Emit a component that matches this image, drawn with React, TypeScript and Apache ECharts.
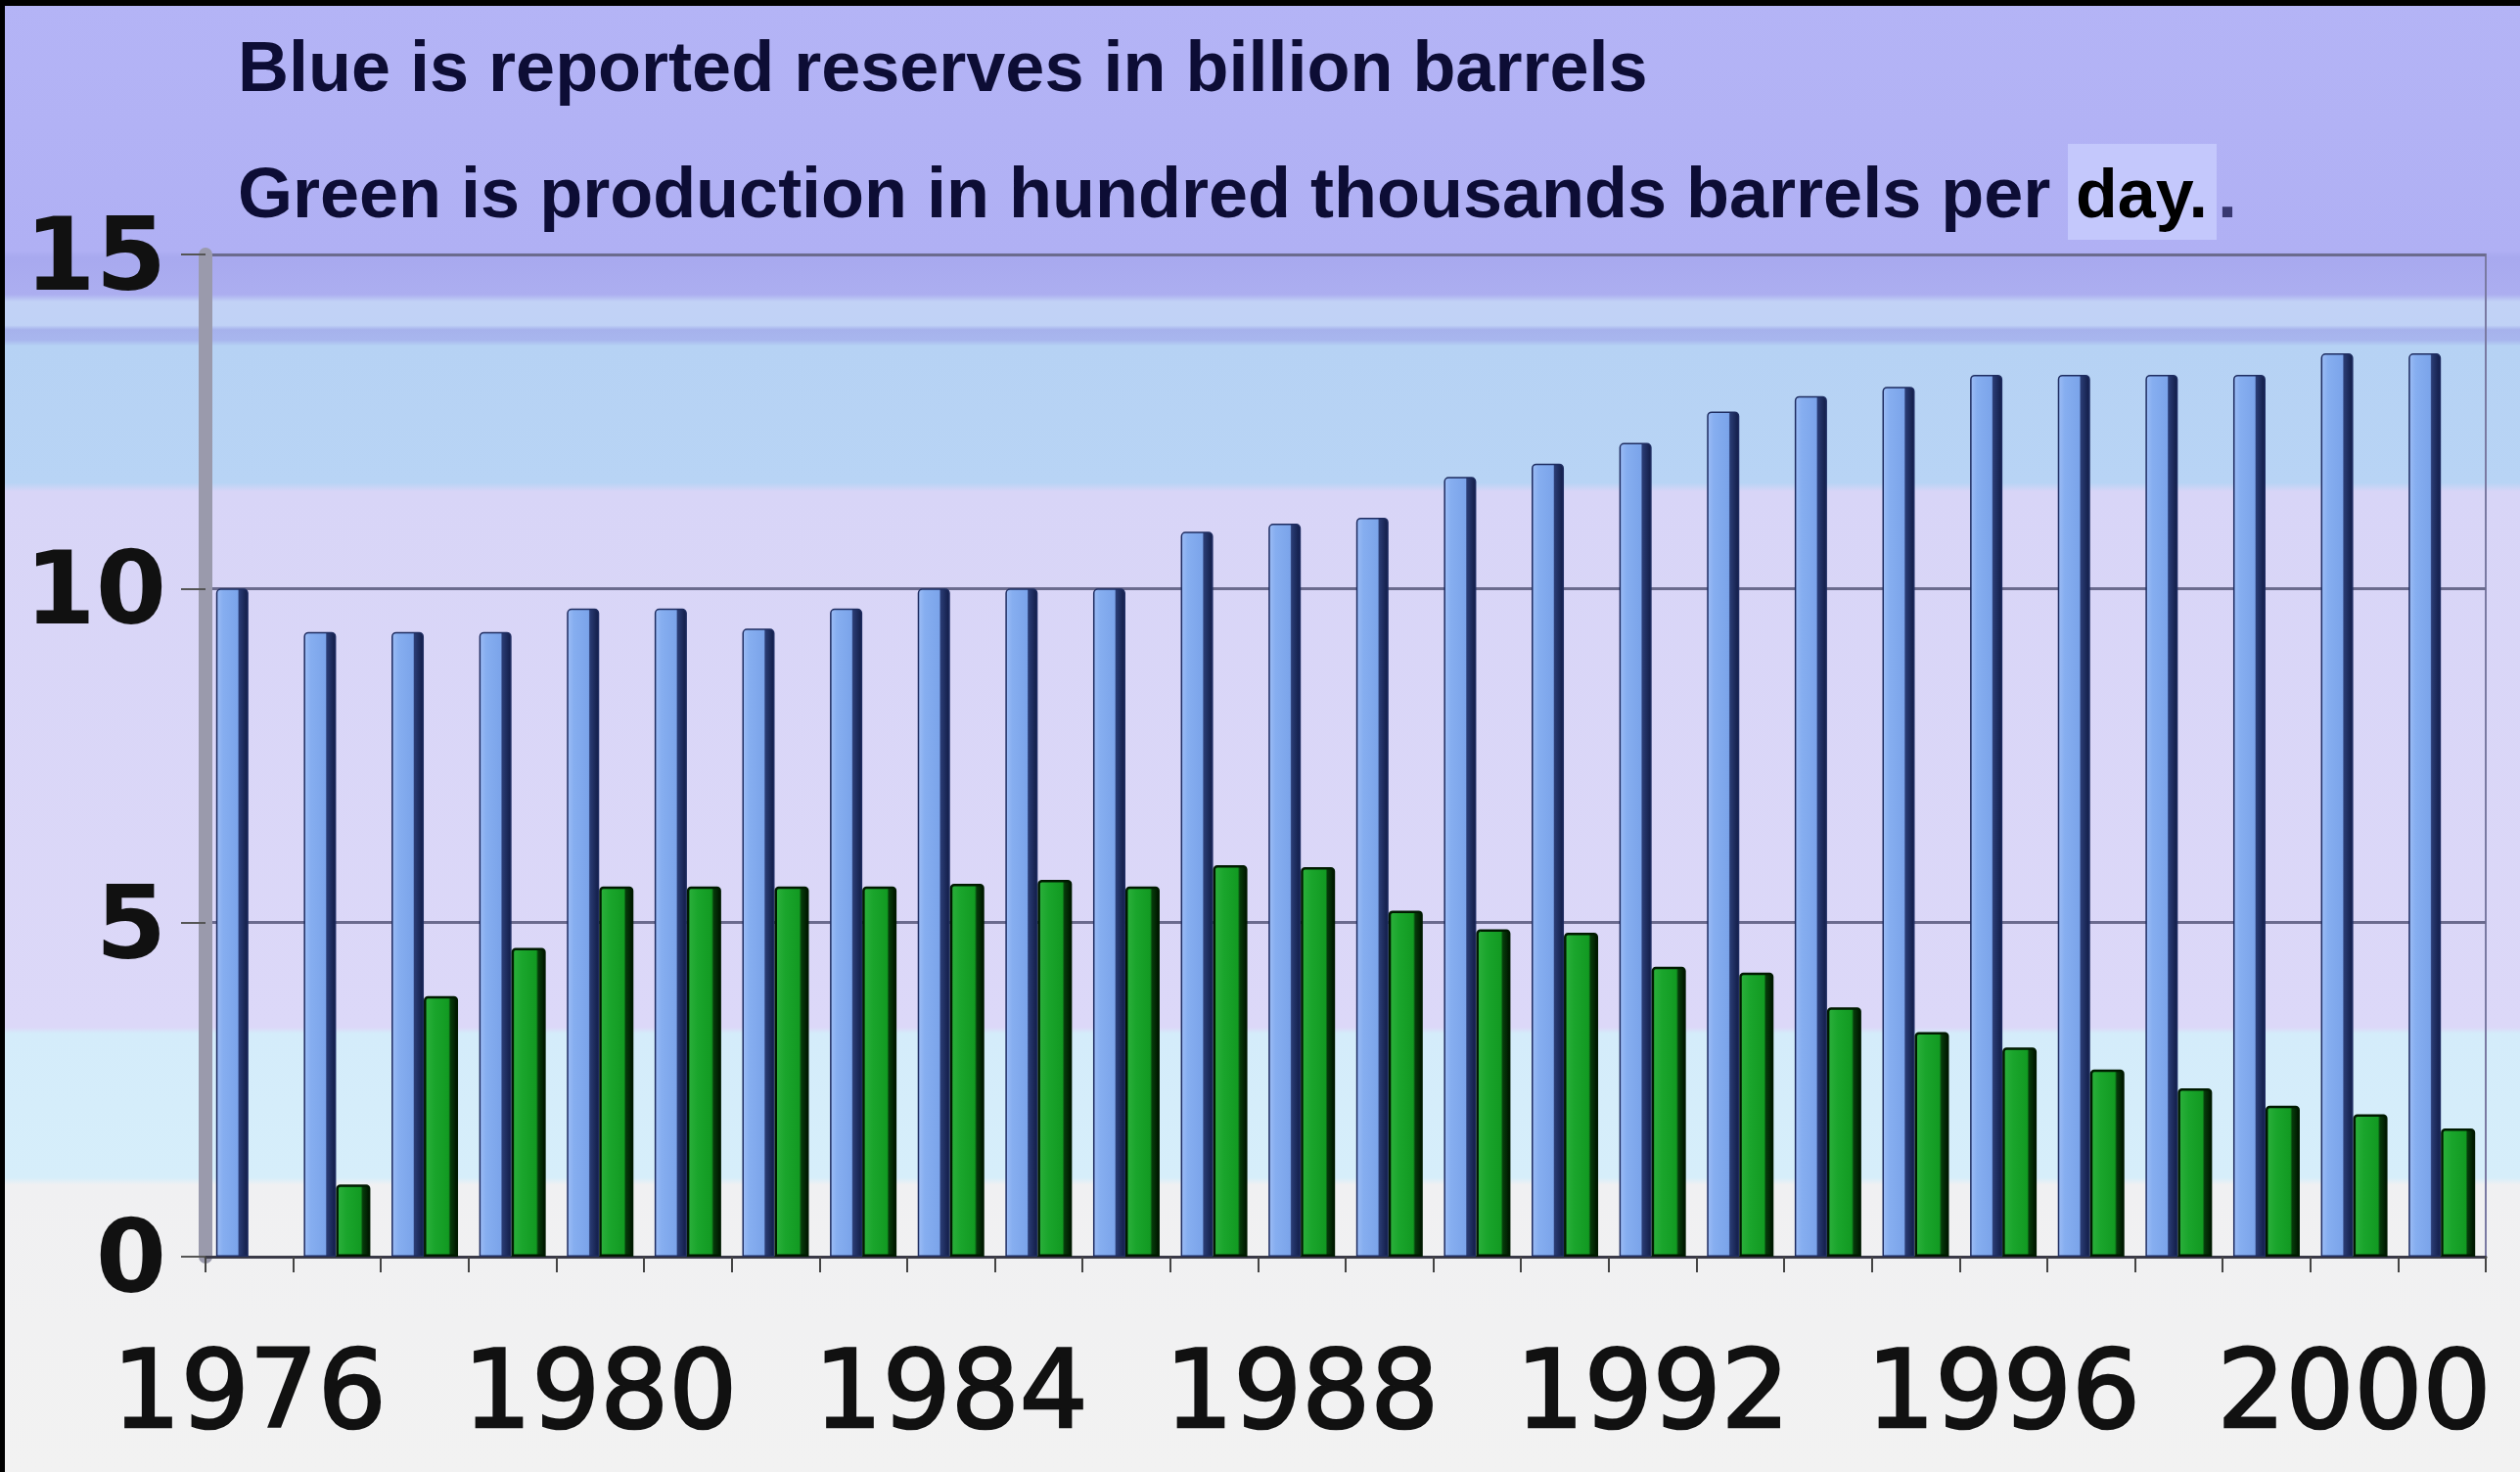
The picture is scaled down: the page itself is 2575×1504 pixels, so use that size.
import React, { useEffect, useRef } from "react";
import * as echarts from "echarts";

const years = [
  "1976", "1977", "1978", "1979", "1980", "1981", "1982", "1983", "1984",
  "1985", "1986", "1987", "1988", "1989", "1990", "1991", "1992", "1993",
  "1994", "1995", "1996", "1997", "1998", "1999", "2000", "2001",
];

// Blue: reported reserves (billion barrels)
const reserves = [
  10.0, 9.35, 9.35, 9.35, 9.7, 9.7, 9.4, 9.7, 10.0, 10.0, 10.0, 10.85, 10.97,
  11.06, 11.67, 11.87, 12.18, 12.65, 12.88, 13.02, 13.2, 13.2, 13.2, 13.2,
  13.52, 13.52,
];

// Green: production (hundred thousand barrels per day)
const production = [
  null, 1.08, 3.9, 4.62, 5.54, 5.54, 5.54, 5.54, 5.58, 5.64, 5.54, 5.86, 5.83,
  5.18, 4.9, 4.85, 4.34, 4.25, 3.73, 3.36, 3.13, 2.8, 2.52, 2.26, 2.13, 1.92,
];

const yTicks = { min: 0, max: 15, interval: 5 };

const titleLine1 = "Blue is reported reserves in billion barrels";
const titleLine2 = "Green is production in hundred thousands barrels per ";
const titleDay = "day.";
const titleTail = ".";

export default function App() {
  const ref = useRef<HTMLDivElement>(null);

  useEffect(() => {
    document.body.style.margin = "0";
    if (!ref.current) return;
    const chart = echarts.init(ref.current, undefined, { renderer: "svg" });

    const bg = new echarts.graphic.LinearGradient(0, 0, 0, 1, [
      { offset: 0, color: "#b4b4f6" },
      { offset: 0.17, color: "#b0b0f4" },
      { offset: 0.175, color: "#a8a9ef" },
      { offset: 0.2, color: "#acaef0" },
      { offset: 0.205, color: "#c2d2f6" },
      { offset: 0.221, color: "#c0d2f6" },
      { offset: 0.224, color: "#a6b2ec" },
      { offset: 0.231, color: "#a8b6ee" },
      { offset: 0.235, color: "#b6d2f4" },
      { offset: 0.328, color: "#b8d4f5" },
      { offset: 0.334, color: "#d8d5f7" },
      { offset: 0.698, color: "#dcd8f8" },
      { offset: 0.702, color: "#d4ecfa" },
      { offset: 0.8, color: "#d6eefa" },
      { offset: 0.805, color: "#f0f0f2" },
      { offset: 1, color: "#f2f2f2" },
    ]);

    const blueFill = new echarts.graphic.LinearGradient(0, 0, 1, 0, [
      { offset: 0, color: "#9cbcf5" },
      { offset: 0.2, color: "#86aef0" },
      { offset: 0.68, color: "#7ba4ea" },
      { offset: 0.72, color: "#2a3c74" },
      { offset: 1, color: "#121d48" },
    ]);
    const greenFill = new echarts.graphic.LinearGradient(0, 0, 1, 0, [
      { offset: 0, color: "#2cb03c" },
      { offset: 0.3, color: "#1aa52c" },
      { offset: 0.74, color: "#129a22" },
      { offset: 0.8, color: "#063a0a" },
      { offset: 1, color: "#001800" },
    ]);

    const textFont = "'Liberation Sans', Arial, sans-serif";
    const shadow = { shadowBlur: 3, shadowColor: "rgba(10,10,70,0.55)" };

    chart.setOption({
      animation: false,
      backgroundColor: bg,
      graphic: [
        { type: "rect", left: 0, top: 0, shape: { width: 2575, height: 6 }, style: { fill: "#000" }, silent: true },
        { type: "rect", left: 0, top: 0, shape: { width: 5, height: 1504 }, style: { fill: "#000" }, silent: true },
        {
          type: "text", x: 243, y: 68,
          style: { text: titleLine1, font: `bold 72px ${textFont}`, fill: "#0d0d35", verticalAlign: "middle", ...shadow },
        },
        {
          type: "text", x: 243, y: 197,
          style: { text: titleLine2, font: `bold 72px ${textFont}`, fill: "#0d0d35", verticalAlign: "middle", ...shadow },
        },
        { type: "rect", x: 2113, y: 147, shape: { width: 152, height: 98 }, style: { fill: "#c4c8fc" }, silent: true },
        {
          type: "text", x: 2121, y: 198,
          style: { text: titleDay, font: `bold 70px ${textFont}`, fill: "#000", verticalAlign: "middle" },
        },
        {
          type: "text", x: 2266, y: 197,
          style: { text: titleTail, font: `bold 72px ${textFont}`, fill: "#1a1a50", opacity: 0.8, verticalAlign: "middle", ...shadow },
        },
      ],
      grid: {
        left: 210,
        right: 35,
        top: 260,
        bottom: 220,
        show: true,
        borderColor: "#7a7aa2",
        borderWidth: 2,
        backgroundColor: "transparent",
      },
      xAxis: {
        type: "category",
        data: years,
        boundaryGap: true,
        axisLine: { lineStyle: { color: "#3a3a48", width: 3 } },
        axisTick: { show: true, interval: 0, length: 16, lineStyle: { color: "#444", width: 2 } },
        axisLabel: {
          interval: 3,
          fontSize: 110,
          fontFamily: "'DejaVu Sans', sans-serif",
          color: "#111",
          textBorderColor: "#111",
          textBorderWidth: 2.5,
          margin: 81,
        },
      },
      yAxis: {
        type: "value",
        min: yTicks.min,
        max: yTicks.max,
        interval: yTicks.interval,
        axisLine: { show: true, lineStyle: { color: "#9a9aac", width: 14 } },
        axisTick: { show: true, length: 25, lineStyle: { color: "#555", width: 2 } },
        axisLabel: {
          fontSize: 104,
          fontWeight: "bold",
          fontFamily: "'DejaVu Sans', sans-serif",
          color: "#111",
          margin: 40,
        },
        splitLine: { show: true, lineStyle: { color: "#6b6b8e", width: 3 } },
      },
      series: [
        {
          name: "Reserves",
          type: "bar",
          data: reserves,
          barWidth: 33,
          barGap: "0%",
          itemStyle: {
            color: blueFill,
            borderColor: "#1e2c60",
            borderWidth: 1.5,
            borderRadius: [4, 4, 0, 0],
          },
        },
        {
          name: "Production",
          type: "bar",
          data: production,
          barWidth: 35,
          barGap: "0%",
          itemStyle: {
            color: greenFill,
            borderColor: "#001a00",
            borderWidth: 2.5,
            borderRadius: [3, 3, 0, 0],
          },
        },
      ],
    });

    return () => chart.dispose();
  }, []);

  return <div ref={ref} style={{ width: 2575, height: 1504 }} />;
}
